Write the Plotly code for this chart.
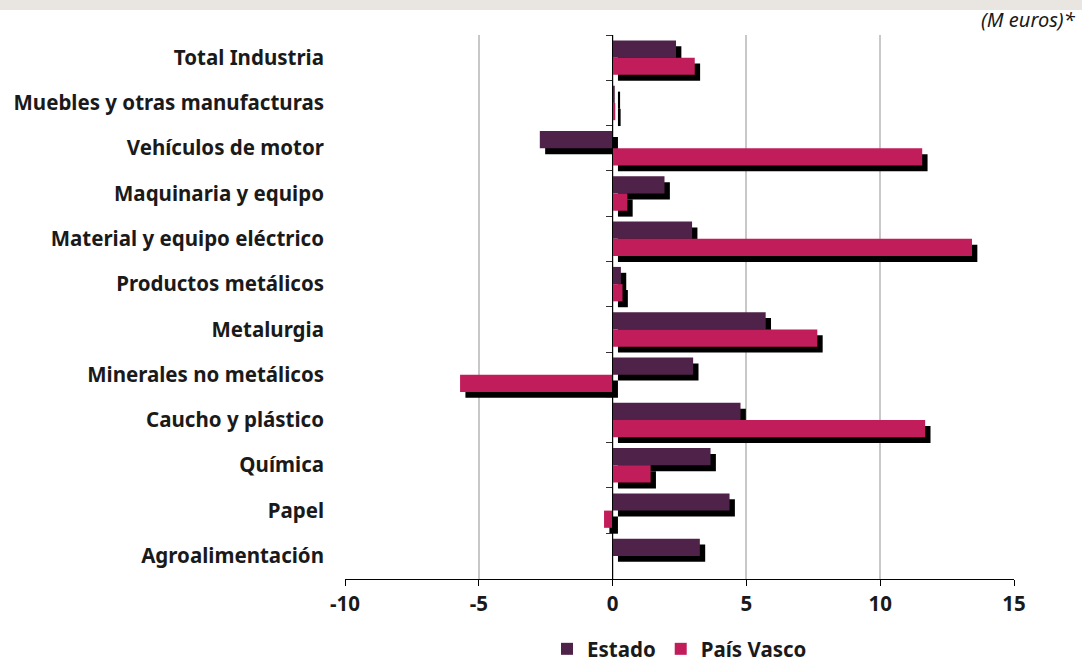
import plotly.graph_objects as go

categories = ["Total Industria", "Muebles y otras manufacturas", "Vehículos de motor",
              "Maquinaria y equipo", "Material y equipo eléctrico", "Productos metálicos",
              "Metalurgia", "Minerales no metálicos", "Caucho y plástico", "Química",
              "Papel", "Agroalimentación"]
estado = [2.37, 0.08, -2.72, 1.94, 2.97, 0.31, 5.72, 3.01, 4.78, 3.66, 4.37, 3.26]
pais_vasco = [3.07, 0.10, 11.57, 0.55, 13.43, 0.37, 7.65, -5.70, 11.68, 1.42, -0.32, 0.0]
x_ticks = [-10, -5, 0, 5, 10, 15]

C_EST = "#4f2349"
C_PV = "#c21d5b"
FONT = "Noto Sans"
FS = 20.5
W = 0.38
SH_X = 0.2
SH_Y = 0.13
PH = 544.0

fig = go.Figure()
fig.add_trace(go.Bar(y=categories, x=estado, base=SH_X, orientation="h", width=W, offset=-W + SH_Y,
                     marker=dict(color="black", line=dict(width=0)), showlegend=False, hoverinfo="skip"))
fig.add_trace(go.Bar(y=categories, x=estado, orientation="h", width=W, offset=-W, name="Estado",
                     marker=dict(color=C_EST, line=dict(width=0))))
fig.add_trace(go.Bar(y=categories, x=pais_vasco, base=SH_X, orientation="h", width=W, offset=SH_Y,
                     marker=dict(color="black", line=dict(width=0)), showlegend=False, hoverinfo="skip",
                     yaxis="y2"))
fig.add_trace(go.Bar(y=categories, x=pais_vasco, orientation="h", width=W, offset=0, name="País Vasco",
                     marker=dict(color=C_PV, line=dict(width=0)), yaxis="y2"))

fig.update_layout(
    width=1082, height=665,
    margin=dict(l=345, r=68, t=35, b=86, autoexpand=False),
    paper_bgcolor="white", plot_bgcolor="white",
    barmode="overlay",
    font=dict(family=FONT, size=FS, color="#1a1a1a"),
    xaxis=dict(range=[-10, 15], tickvals=x_ticks, ticktext=[str(v) for v in x_ticks],
               showgrid=True, gridcolor="#c8c8c8", gridwidth=2, zeroline=False,
               showline=True, linecolor="black", linewidth=1, ticks="outside", ticklen=6,
               tickcolor="black", tickfont=dict(family=FONT, size=FS, color="#1a1a1a", weight="bold"),
               fixedrange=True),
    yaxis=dict(type="category", categoryorder="array", categoryarray=categories,
               autorange="reversed", showgrid=False, ticks="", showline=False,
               tickfont=dict(family=FONT, size=FS, color="#1a1a1a", weight="bold"),
               ticklabelstandoff=20),
    yaxis2=dict(matches="y", overlaying="y", anchor="free", position=0.399,
                showticklabels=False, showgrid=False, showline=True, linecolor="black", linewidth=1,
                ticks="outside", ticklen=6, tickcolor="#333333", tickson="boundaries"),
    legend=dict(orientation="h", x=0.5, xanchor="center", y=-70 / PH, yanchor="middle",
                font=dict(family=FONT, size=FS, color="#1a1a1a", weight="bold"),
                itemwidth=30, traceorder="normal"),
    shapes=[dict(type="rect", xref="paper", yref="paper", x0=-0.52, x1=1.11, y0=1.0 + 25 / PH,
                 y1=1.0 + 36 / PH, fillcolor="#e9e5e1", line=dict(width=0), layer="below")],
    annotations=[dict(text="<i>(M euros)*</i>", xref="paper", yref="paper", x=(1078 - 345) / 669,
                      y=1.0 + 15 / PH, xanchor="right", yanchor="middle", showarrow=False,
                      font=dict(family=FONT, size=20, color="#1a1a1a"))],
)

fig.write_html("out.html")
